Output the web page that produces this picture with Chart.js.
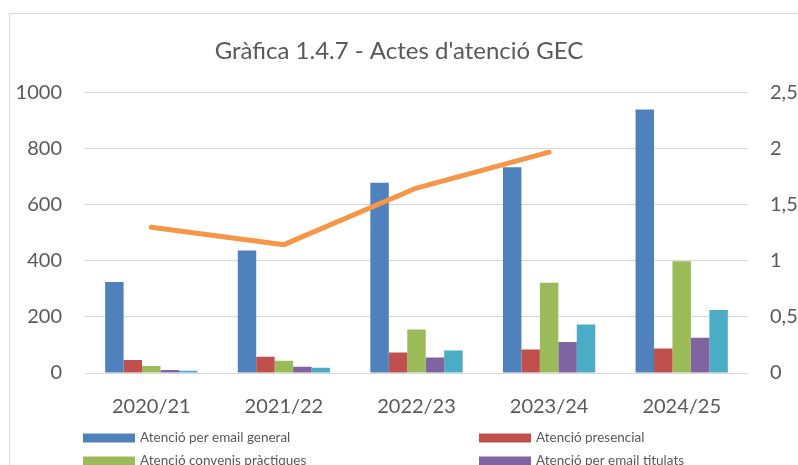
<!DOCTYPE html>
<html>
<head>
<meta charset="utf-8">
<script src="https://cdn.jsdelivr.net/npm/chart.js@4"></script>
<style>
  html, body { margin: 0; padding: 0; background: #fff; overflow: hidden; }
  #wrap { position: relative; width: 798px; height: 465px; overflow: hidden; }
  #frame { position: absolute; left: 9px; top: 13px; width: 900px; height: 600px;
           border: 1.5px solid #D9D9D9; box-sizing: border-box; }
  #chart { position: absolute; left: 0; top: 0; }
</style>
</head>
<body>
<div id="wrap">
  <div id="frame"></div>
  <canvas id="chart" width="798" height="465"></canvas>
</div>
<script>
// ── Data ──────────────────────────────────────────────────────────────────────
const cursos = ['2020/21', '2021/22', '2022/23', '2023/24', '2024/25'];

const emailGeneral   = [325, 437, 679, 734, 940];
const presencial     = [46, 58, 73, 84, 87];
const convenis       = [25, 44, 155, 322, 399];
const emailTitulats  = [11, 22, 55, 111, 126];
const altres         = [8, 19, 80, 173, 225];
const ratio          = [1.30, 1.145, 1.65, 1.97, null];

const leftTicks  = [0, 200, 400, 600, 800, 1000];
const rightTicks = [0, 0.5, 1, 1.5, 2, 2.5];

const FONT = 'Lato, "Open Sans", sans-serif';
const TEXT = '#595959';
const GRID = '#D9D9D9';

// ── Two-column legend like the Excel one ──────────────────────────────────────
const gridLegend = {
  id: 'gridLegend',
  afterDraw(chart) {
    const ctx = chart.ctx;
    const cols = [83, 479];
    const rowY = [438, 461];
    const rowH = rowY[1] - rowY[0];
    ctx.save();
    ctx.font = '13.5px ' + FONT;
    ctx.textBaseline = 'middle';
    chart.data.datasets.forEach((ds, i) => {
      const x = cols[i % 2];
      const y = rowY[0] + Math.floor(i / 2) * rowH;
      ctx.fillStyle = ds.legendColor || ds.backgroundColor;
      ctx.fillRect(x, y - 4.5, 52, 9);
      ctx.fillStyle = TEXT;
      ctx.fillText(ds.label, x + 57, y);
    });
    ctx.restore();
  }
};

const bar = (label, data, color) => ({
  type: 'bar', label, data, backgroundColor: color, yAxisID: 'y',
  borderWidth: 0, order: 1,
  categoryPercentage: 0.696, barPercentage: 1.0,
});

new Chart(document.getElementById('chart'), {
  data: {
    labels: cursos,
    datasets: [
      bar('Atenció per email general', emailGeneral, '#4F81BD'),
      bar('Atenció presencial', presencial, '#C0504D'),
      bar('Atenció convenis pràctiques', convenis, '#9BBB59'),
      bar('Atenció per email titulats', emailTitulats, '#8064A2'),
      bar('Atenció telefònica', altres, '#4BACC6'),
      {
        type: 'line', label: 'Ràtio', data: ratio, yAxisID: 'y2',
        borderColor: '#F79646', legendColor: '#F79646', borderWidth: 5,
        pointRadius: 0, tension: 0, borderCapStyle: 'round',
        borderJoinStyle: 'round', order: 0,
      },
    ],
  },
  options: {
    responsive: false,
    animation: false,
    devicePixelRatio: 1,
    layout: { padding: { top: 0, left: 0, right: 0, bottom: 45 } },
    plugins: {
      legend: { display: false },
      tooltip: { enabled: false },
      title: {
        display: true,
        text: "Gràfica 1.4.7 - Actes d'atenció GEC",
        color: TEXT,
        font: { family: FONT, size: 24, weight: 'normal' },
        padding: { top: 37, bottom: 27 },
      },
    },
    scales: {
      x: {
        grid: { display: false },
        border: { display: false },
        ticks: { color: TEXT, font: { family: FONT, size: 20 }, padding: 14, maxRotation: 0 },
        afterFit: s => { s.height = 47; },
      },
      y: {
        position: 'left',
        min: 0, max: 1000,
        afterBuildTicks: s => { s.ticks = leftTicks.map(v => ({ value: v })); },
        grid: { color: GRID, lineWidth: 1, drawTicks: false },
        border: { display: false },
        ticks: { color: TEXT, font: { family: FONT, size: 20 }, padding: 23, callback: v => String(v) },
        afterFit: s => { s.width = 85; },
      },
      y2: {
        position: 'right',
        min: 0, max: 2.5,
        afterBuildTicks: s => { s.ticks = rightTicks.map(v => ({ value: v })); },
        grid: { display: false, drawTicks: false },
        border: { display: false },
        ticks: {
          color: TEXT, font: { family: FONT, size: 20 }, padding: 22,
          callback: v => String(v).replace('.', ','),
        },
        afterFit: s => { s.width = 50; },
      },
    },
  },
  plugins: [gridLegend],
});
</script>
</body>
</html>
